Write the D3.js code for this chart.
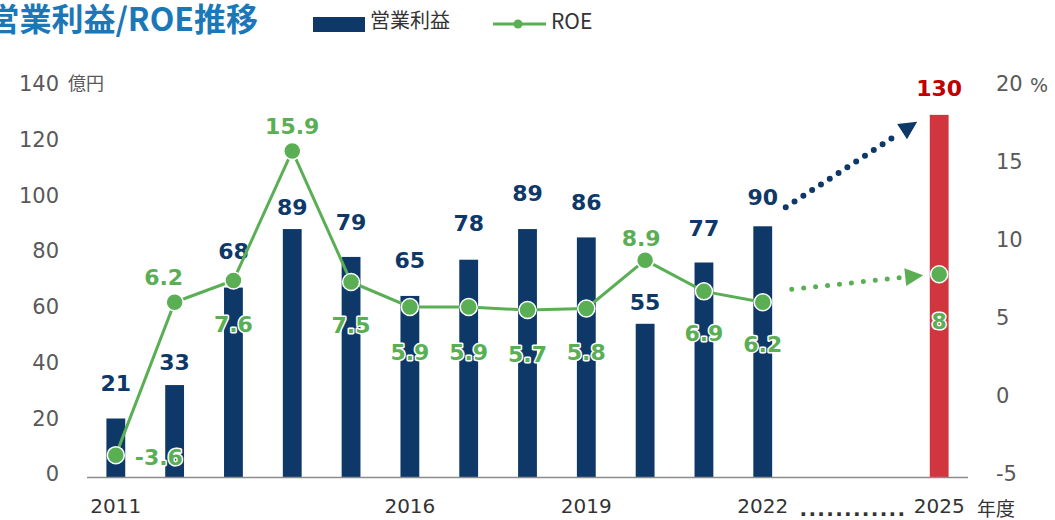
<!DOCTYPE html>
<html lang="ja">
<head>
<meta charset="utf-8" />
<title>営業利益/ROE推移</title>
<script src="https://cdn.jsdelivr.net/npm/d3@7"></script>
<style>
  body { margin: 0; background: #fff; }
  svg { display: block; }
  .num { font-family: "DejaVu Sans", Verdana, sans-serif; }
  .jp { font-family: "Noto Sans CJK JP", "Noto Sans", sans-serif; }
  .halo { paint-order: stroke; stroke: #fff; stroke-width: 3px; stroke-linejoin: round; }
</style>
</head>
<body>
<div id="chart"></div>
<script>
  // data
  var years = ["2011","2012","2013","2014","2015","2016","2017","2018","2019","2020","2021","2022","2023","2024","2025"];
  var profit = [21, 33, 68, 89, 79, 65, 78, 89, 86, 55, 77, 90, null, null, 130];
  var roe = [-3.6, 6.2, 7.6, 15.9, 7.5, 5.9, 5.9, 5.7, 5.8, 8.9, 6.9, 6.2, null, null, 8];
  var xTickLabels = ["2011", "2016", "2019", "2022", "2025"];
  var leftTicks = [0, 20, 40, 60, 80, 100, 120, 140];
  var rightTicks = [-5, 0, 5, 10, 15, 20];
  var targetYear = "2025";

  // label placement (px offsets from the mark)
  var barLabelDy = [-35, -23, -36, -22, -35, -36, -37, -36, -35, -22, -34, -29, 0, 0, -27];
  var roeLabelDy = [2, -25, 44, -25, 43, 45, 45, 44, 44, -22, 42, 42, 0, 0, 47];
  var roeLabelDx = [19, -11, 0, 0, 0, 0, 0, 0, 0, -4, 0, 0, 0, 0, 0];

  var width = 1055, height = 520;
  var navy = "#0d3868", green = "#5aaf55", red = "#d1353d";

  var svg = d3.select("#chart").append("svg")
      .attr("width", width)
      .attr("height", height);

  var x = d3.scaleBand().domain(years).range([87, 968])
      .paddingInner(0.68).paddingOuter(0.33);
  var yL = d3.scaleLinear().domain([0, 140]).range([477, 87]);
  var yR = d3.scaleLinear().domain([-5, 20]).range([477, 87]);
  var cx = function(i) { return x(years[i]) + x.bandwidth() / 2; };
  var plain = function(d) { return String(d); };

  // title + legend
  svg.append("text").attr("class", "jp")
      .attr("x", 258).attr("y", 31)
      .attr("text-anchor", "end")
      .attr("font-size", 32).attr("font-weight", 700)
      .attr("fill", "#1a78b8")
      .text("営業利益/ROE推移");

  svg.append("rect").attr("x", 313).attr("y", 17).attr("width", 52).attr("height", 15).attr("fill", navy);
  svg.append("text").attr("class", "jp").attr("x", 370).attr("y", 28)
      .attr("font-size", 20).attr("fill", "#333").text("営業利益");
  svg.append("line").attr("x1", 493).attr("x2", 546).attr("y1", 24).attr("y2", 24)
      .attr("stroke", green).attr("stroke-width", 3);
  svg.append("circle").attr("cx", 518).attr("cy", 24).attr("r", 4.5).attr("fill", green);
  svg.append("text").attr("class", "jp").attr("x", 551).attr("y", 29)
      .attr("font-size", 21).attr("fill", "#333").text("ROE");

  // axes
  var gl = svg.append("g").attr("class", "num")
      .attr("transform", "translate(59,-3)")
      .call(d3.axisLeft(yL).tickValues(leftTicks).tickFormat(plain).tickSize(0).tickPadding(0));
  gl.select(".domain").remove();
  gl.selectAll("text").attr("font-size", 21).attr("fill", "#595959").attr("font-family", "DejaVu Sans");

  var gr = svg.append("g").attr("class", "num")
      .attr("transform", "translate(996,-3)")
      .call(d3.axisRight(yR).tickValues(rightTicks).tickFormat(plain).tickSize(0).tickPadding(0));
  gr.select(".domain").remove();
  gr.selectAll("text").attr("font-size", 21).attr("fill", "#595959").attr("font-family", "DejaVu Sans");

  svg.append("text").attr("class", "jp").attr("x", 68).attr("y", 90)
      .attr("font-size", 18).attr("fill", "#595959").text("億円");
  svg.append("text").attr("class", "num").attr("x", 1030).attr("y", 92)
      .attr("font-size", 19).attr("fill", "#595959").text("%");

  var gx = svg.append("g").attr("class", "num")
      .attr("transform", "translate(0,477)")
      .call(d3.axisBottom(x).tickValues(xTickLabels).tickSize(0).tickPadding(22));
  gx.select(".domain").remove();
  gx.selectAll("text").attr("font-size", 20).attr("fill", "#333").attr("font-family", "DejaVu Sans");

  svg.append("text").attr("class", "num")
      .attr("x", (cx(11) + cx(14)) / 2 + 2).attr("y", 516)
      .attr("text-anchor", "middle")
      .attr("font-size", 20).attr("font-weight", 700).attr("letter-spacing", 1.3)
      .attr("fill", "#333").text("............");
  svg.append("text").attr("class", "jp").attr("x", 977).attr("y", 516)
      .attr("font-size", 19).attr("fill", "#333").text("年度");

  // bars
  var barData = profit.map(function(v, i) { return { i: i, v: v, year: years[i] }; })
      .filter(function(d) { return d.v !== null; });

  svg.append("g").selectAll("rect").data(barData).enter().append("rect")
      .attr("x", function(d) { return x(d.year); })
      .attr("width", x.bandwidth())
      .attr("y", function(d) { return yL(d.v); })
      .attr("height", function(d) { return yL(0) - yL(d.v); })
      .attr("fill", function(d) { return d.year === targetYear ? red : navy; });

  svg.append("line").attr("x1", 87).attr("x2", 968).attr("y1", 477.5).attr("y2", 477.5)
      .attr("stroke", "#8c8c8c").attr("stroke-width", 1.5);

  svg.append("g").attr("class", "num").selectAll("text").data(barData).enter().append("text")
      .attr("class", "num halo")
      .attr("x", function(d) { return cx(d.i); })
      .attr("y", function(d) { return yL(d.v) + barLabelDy[d.i]; })
      .attr("dy", "0.36em")
      .attr("text-anchor", "middle")
      .attr("font-size", 22).attr("font-weight", 700)
      .attr("fill", function(d) { return d.year === targetYear ? "#c00000" : navy; })
      .text(function(d) { return d.v; });

  // forecast arrows
  function dottedArrow(x1, y1, x2, y2, color, w, gap, head) {
    var ang = Math.atan2(y2 - y1, x2 - x1);
    var bx = x2 - Math.cos(ang) * head, by = y2 - Math.sin(ang) * head;
    svg.append("line")
        .attr("x1", x1).attr("y1", y1).attr("x2", bx - Math.cos(ang) * 4).attr("y2", by - Math.sin(ang) * 4)
        .attr("stroke", color).attr("stroke-width", w)
        .attr("stroke-linecap", "round").attr("stroke-dasharray", "0 " + gap);
    var px = -Math.sin(ang) * head * 0.5, py = Math.cos(ang) * head * 0.5;
    svg.append("path")
        .attr("d", "M" + x2 + "," + y2 + "L" + (bx + px) + "," + (by + py) + "L" + (bx - px) + "," + (by - py) + "Z")
        .attr("fill", color);
  }
  var last = 11, tgt = years.indexOf(targetYear);
  dottedArrow(cx(last) + 23, yL(profit[last]) - 19, cx(tgt) - 22, yL(profit[tgt]) + 7, navy, 6, 10.5, 18);
  dottedArrow(cx(last) + 29, yR(roe[last]) - 13, cx(tgt) - 16, yR(roe[tgt]) + 1, green, 5, 12, 18);

  // ROE line
  var roeData = roe.map(function(v, i) { return { i: i, v: v }; })
      .filter(function(d) { return d.v !== null; });
  var line = d3.line()
      .defined(function(d) { return d.i <= last; })
      .x(function(d) { return cx(d.i); })
      .y(function(d) { return yR(d.v); });

  svg.append("path").datum(roeData)
      .attr("d", line)
      .attr("fill", "none").attr("stroke", green).attr("stroke-width", 3);

  svg.append("g").selectAll("circle").data(roeData).enter().append("circle")
      .attr("cx", function(d) { return cx(d.i); })
      .attr("cy", function(d) { return yR(d.v); })
      .attr("r", 8.5)
      .attr("fill", green).attr("stroke", "#fff").attr("stroke-width", 1.5);

  svg.append("g").selectAll("text").data(roeData).enter().append("text")
      .attr("class", "num halo")
      .attr("x", function(d) { return cx(d.i) + roeLabelDx[d.i]; })
      .attr("y", function(d) { return yR(d.v) + roeLabelDy[d.i]; })
      .attr("dy", "0.36em")
      .attr("text-anchor", function(d) { return d.i === 0 ? "start" : "middle"; })
      .attr("font-size", 22).attr("font-weight", 700)
      .attr("fill", green)
      .text(function(d) { return d.v; });
</script>
</body>
</html>
